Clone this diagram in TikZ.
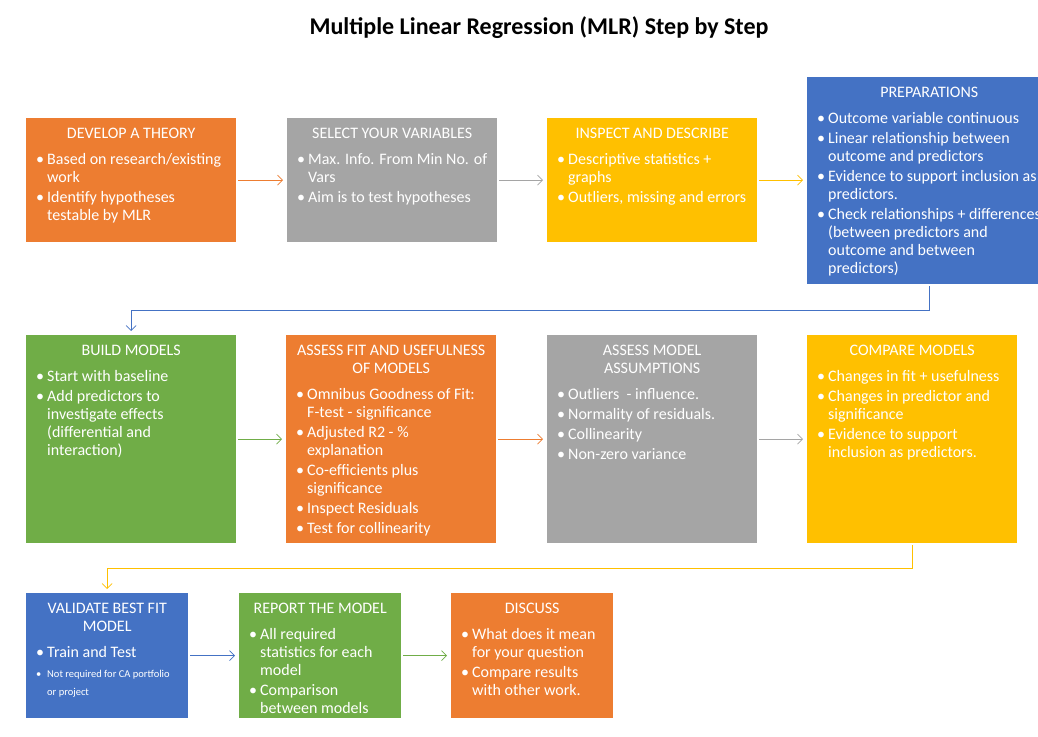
\documentclass[tikz,border=0pt]{standalone}
\usepackage{fontspec}
\setmainfont{Carlito}
\usetikzlibrary{arrows.meta,calc}

\definecolor{mlrorange}{HTML}{ED7D31}
\definecolor{mlrgray}{HTML}{A5A5A5}
\definecolor{mlrgold}{HTML}{FFC000}
\definecolor{mlrblue}{HTML}{4472C4}
\definecolor{mlrgreen}{HTML}{70AD47}

% box body: width, height, content (lines are broken by hand)
\newcommand{\boxtext}[3]{\parbox[t][#2][t]{#1}{\raggedright\rightskip=0pt plus 1fil minus 60pt
  \fontsize{16}{18}\selectfont\setlength{\parskip}{2pt}\vspace*{7.4pt}#3}}
\newcommand{\head}[1]{{\centering\leftskip=0pt plus 1fil minus 30pt\rightskip=\leftskip
  \parskip=0pt\strut#1\par}\vspace{6pt}}
\newcommand{\bul}[1]{\par\hangindent=11pt\hangafter=1\noindent\makebox[11pt][l]{\textbullet}#1\par}

\tikzset{
  stepbox/.style={fill=#1,text=white,anchor=north west,inner xsep=10pt,inner ysep=0pt},
  flow/.style={draw=#1,line width=0.7pt,-{Straight Barb[length=5pt,width=10pt]},
    shorten <=2pt,shorten >=4pt}
}

\begin{document}
\begin{tikzpicture}[x=1pt,y=-1pt]
  \useasboundingbox[fill=white] (0,0) rectangle (1038,736);

  \node[font=\bfseries\fontsize{24}{28}\selectfont] (title) at (539,28)
    {Multiple Linear Regression (MLR) Step by Step};

  % row 1
  \node[stepbox=mlrorange] (theory) at (26,118) {\boxtext{190pt}{124pt}{%
    \head{DEVELOP A THEORY}
    \bul{Based on research/existing\newline work}
    \bul{Identify hypotheses\newline testable by MLR}}};
  \node[stepbox=mlrgray] (select) at (287,118) {\boxtext{190pt}{124pt}{%
    \head{SELECT YOUR VARIABLES}
    \bul{Max. Info. From Min No. of\newline Vars}
    \bul{Aim is to test hypotheses}}};
  \node[stepbox=mlrgold] (inspect) at (547,118) {\boxtext{190pt}{124pt}{%
    \head{INSPECT AND DESCRIBE}
    \bul{Descriptive statistics +\newline graphs}
    \bul{Outliers, missing and errors}}};
  \node[stepbox=mlrblue] (prep) at (807,77) {\boxtext{224pt}{207pt}{%
    \head{PREPARATIONS}
    \bul{Outcome variable continuous}
    \bul{Linear relationship between\newline outcome and predictors}
    \bul{Evidence to support inclusion as\newline predictors.}
    \bul{Check relationships + differences\newline (between predictors and\newline outcome and between\newline predictors)}}};

  % row 2
  \node[stepbox=mlrgreen] (build) at (26,335) {\boxtext{190pt}{208pt}{%
    \head{BUILD MODELS}
    \bul{Start with baseline}
    \bul{Add predictors to\newline investigate effects\newline (differential and\newline interaction)}}};
  \node[stepbox=mlrorange] (fit) at (286,335) {\boxtext{190pt}{208pt}{%
    \head{ASSESS FIT AND USEFULNESS\\ OF MODELS}
    \bul{Omnibus Goodness of Fit:\newline F-test - significance}
    \bul{Adjusted R2 - \%\newline explanation}
    \bul{Co-efficients plus\newline significance}
    \bul{Inspect Residuals}
    \bul{Test for collinearity}}};
  \node[stepbox=mlrgray] (assume) at (547,335) {\boxtext{190pt}{208pt}{%
    \head{ASSESS MODEL\\ ASSUMPTIONS}
    \bul{Outliers\ \ - influence.}
    \bul{Normality of residuals.}
    \bul{Collinearity}
    \bul{Non-zero variance}}};
  \node[stepbox=mlrgold] (compare) at (807,335) {\boxtext{190pt}{208pt}{%
    \head{COMPARE MODELS}
    \bul{Changes in fit + usefulness}
    \bul{Changes in predictor and\newline significance}
    \bul{Evidence to support\newline inclusion as predictors.}}};

  % row 3
  \node[stepbox=mlrblue] (validate) at (26,593) {\boxtext{142pt}{125pt}{%
    \head{VALIDATE BEST FIT\\ MODEL}
    \bul{Train and Test}
    {\fontsize{10.5}{18}\selectfont\bul{Not required for CA portfolio\newline or project}}}};
  \node[stepbox=mlrgreen] (report) at (239,593) {\boxtext{142pt}{125pt}{%
    \head{REPORT THE MODEL}
    \bul{All required\newline statistics for each\newline model}
    \bul{Comparison\newline between models}}};
  \node[stepbox=mlrorange] (discuss) at (451,593) {\boxtext{142pt}{125pt}{%
    \head{DISCUSS}
    \bul{What does it mean\newline for your question}
    \bul{Compare results\newline with other work.}}};

  % connectors
  \draw[flow=mlrorange] (theory) -- (select);
  \draw[flow=mlrgray] (select) -- (inspect);
  \draw[flow=mlrgold] (inspect.east) -- (inspect.east -| prep.west);
  \draw[flow=mlrblue] (prep.south) -- ++(0,25.5) -| (build.north);
  \draw[flow=mlrgreen] (build) -- (fit);
  \draw[flow=mlrorange] (fit) -- (assume);
  \draw[flow=mlrgray] (assume) -- (compare);
  \draw[flow=mlrgold] (compare.south) -- ++(0,25) -| (validate.north);
  \draw[flow=mlrblue] (validate) -- (report);
  \draw[flow=mlrgreen] (report) -- (discuss);
\end{tikzpicture}
\end{document}
